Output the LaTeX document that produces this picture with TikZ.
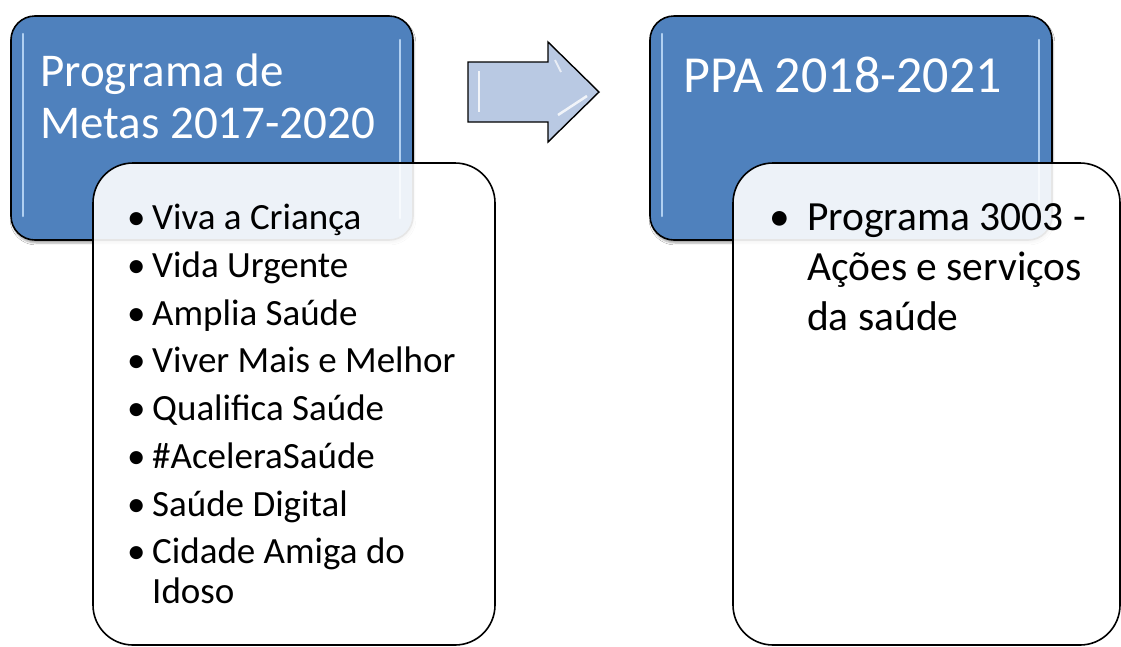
\documentclass[tikz,border=0pt]{standalone}
\usepackage{fontspec}
\setmainfont{Carlito}
\usetikzlibrary{shadows.blur}
\definecolor{boxblue}{HTML}{4F81BD}
\definecolor{arrowblue}{HTML}{B9C9E3}
\definecolor{stripeblue}{HTML}{BCD9F7}
\newcommand{\bulL}{\makebox[25pt][l]{\textbullet}}
\newcommand{\bulR}{\makebox[38pt][l]{\textbullet}}

\begin{document}
\begin{tikzpicture}[x=1pt,y=-1pt]
\tikzstyle{every node}+=[inner sep=0pt]
\tikzstyle{bluebox}=[draw=black, line width=1.6pt, fill=boxblue, rounded corners=24pt,
  blur shadow={shadow xshift=1pt, shadow yshift=-3pt, shadow opacity=35}]
\tikzstyle{listbox}=[draw=black, line width=1.6pt, fill=white, fill opacity=0.9, rounded corners=40pt]
\tikzstyle{stripe}=[stripeblue, line width=2.5pt, line cap=round, opacity=0.9]
\tikzstyle{titletext}=[anchor=base west, text=white]
\tikzstyle{listtext}=[anchor=base west, text=black, font=\fontsize{37}{40}\selectfont]
\tikzstyle{listtextR}=[anchor=base west, text=black, font=\fontsize{41.5}{50}\selectfont]
\useasboundingbox (0,0) rectangle (1121,646);
\fill [white] (0,0) rectangle (1121,646);
% blue title boxes
\node [bluebox, minimum width=402, minimum height=224] (metas) at (212,128) {};
\node [bluebox, minimum width=402, minimum height=224] (ppa) at (851,128) {};
\draw [stripe] (23,34) -- (23,216);
\draw [stripe] (400,40) -- (400,218);
\draw [stripe] (662,34) -- (662,216);
\draw [stripe] (1039,40) -- (1039,218);
\node [titletext, font=\fontsize{47}{52}\selectfont] (metas1) at (40,86) {Programa de};
\node [titletext, font=\fontsize{47}{52}\selectfont] (metas2) at (40,138) {Metas 2017-2020};
\node [titletext, font=\fontsize{52}{60}\selectfont] (ppa1) at (683,92) {PPA 2018-2021};
% block arrow
\draw [black, line width=1.4pt, fill=arrowblue, line join=miter]
  (468,62) -- (548,62) -- (548,42) -- (599,92) -- (548,142) -- (548,122) -- (468,122) -- cycle;
\draw [white, line width=2pt, opacity=0.8] (479,71) -- (479,112);
\draw [white, line width=2.5pt, opacity=0.8] (558,115) -- (587,96);
\draw [white, line width=2pt, opacity=0.7] (555,60) -- (561,72);
% list boxes
\node [listbox, minimum width=402, minimum height=482] (metaslist) at (294,404) {};
\node [listbox, minimum width=387, minimum height=482] (ppalist) at (926.5,404) {};
\node [listtext] (viva) at (127,229) {\bulL Viva a Criança};
\node [listtext] (vida) at (127,277) {\bulL Vida Urgente};
\node [listtext] (amplia) at (127,325) {\bulL Amplia Saúde};
\node [listtext] (viver) at (127,372) {\bulL Viver Mais e Melhor};
\node [listtext] (qualifica) at (127,420) {\bulL Qualifica Saúde};
\node [listtext] (acelera) at (127,468) {\bulL \#AceleraSaúde};
\node [listtext] (digital) at (127,516) {\bulL Saúde Digital};
\node [listtext] (cidade) at (127,563) {\bulL Cidade Amiga do};
\node [listtext] (idoso) at (152,603) {Idoso};
\node [listtextR] (prog1) at (769,230) {\bulR Programa 3003 -};
\node [listtextR] (prog2) at (807,280) {Ações e serviços};
\node [listtextR] (prog3) at (807,330) {da saúde};
\end{tikzpicture}
\end{document}
